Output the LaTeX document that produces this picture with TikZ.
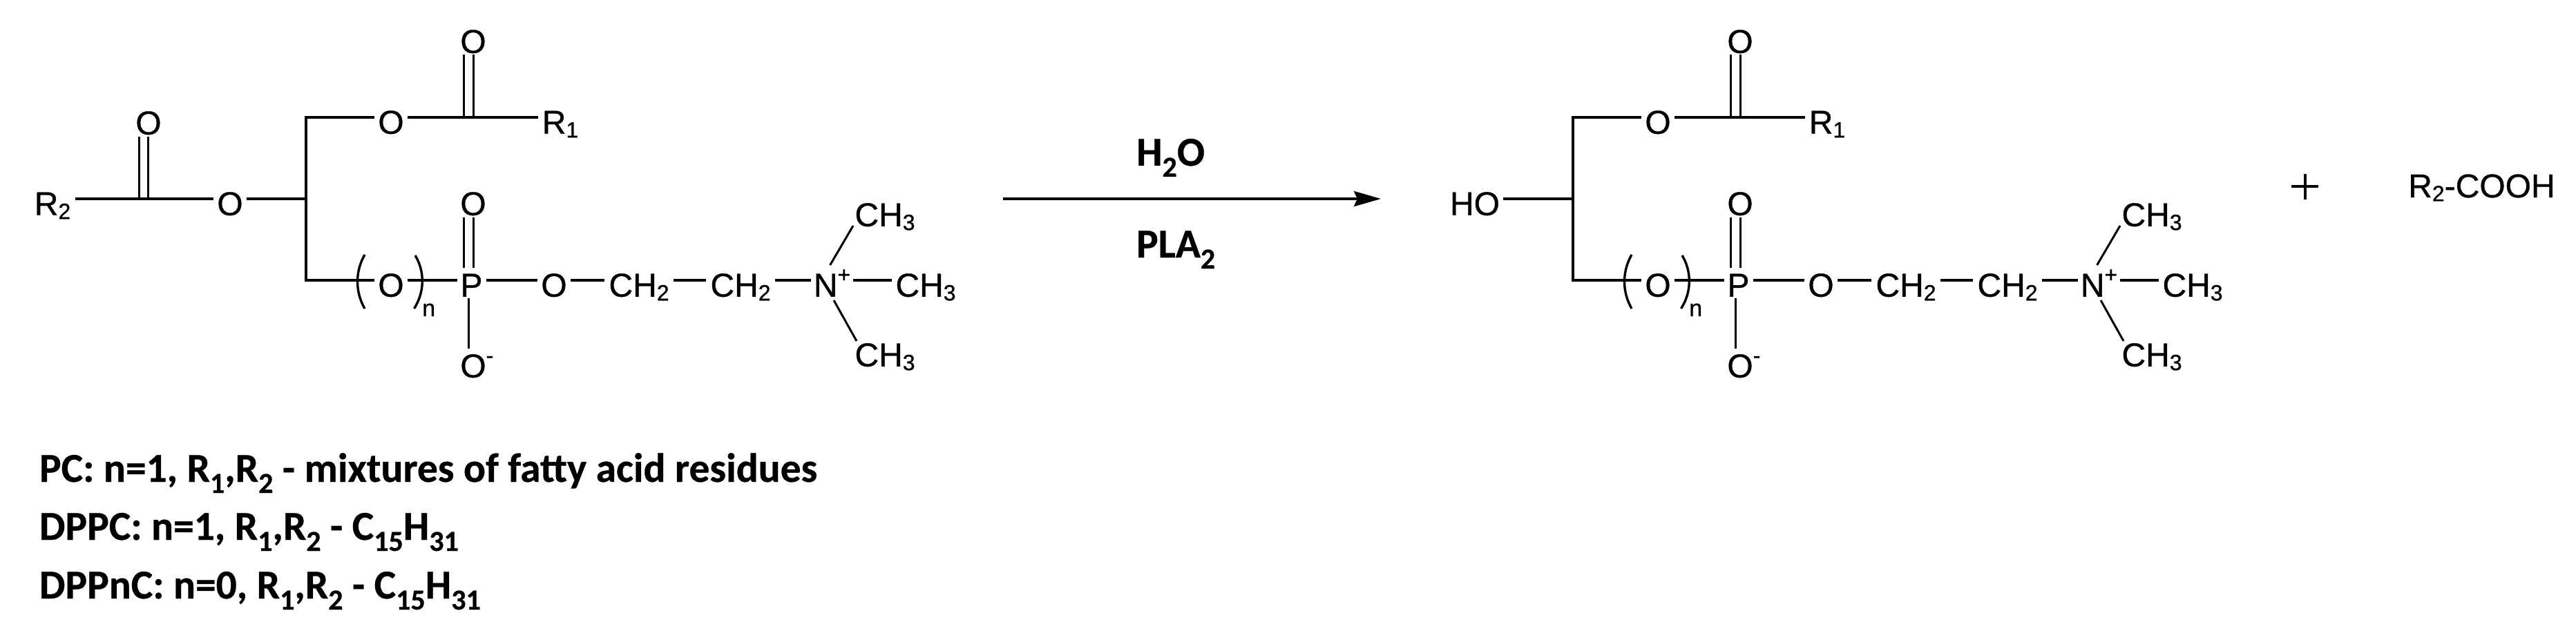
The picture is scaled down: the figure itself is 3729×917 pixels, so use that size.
\documentclass[tikz,border=0pt]{standalone}
\usepackage{fontspec}
\usetikzlibrary{arrows.meta,calc}
\setmainfont[FakeBold=0.7]{Liberation Sans}
\newfontfamily\labelfont[FakeBold=0.5]{Carlito Bold}
\newcommand{\chemsub}[1]{\raisebox{-5.5pt}{\fontsize{32}{32}\selectfont #1}}
\newcommand{\chemsup}[1]{\raisebox{21pt}{\fontsize{32}{32}\selectfont #1}}
\newcommand{\txtsub}[1]{\raisebox{-16pt}{\fontsize{42}{42}\selectfont #1}}
\tikzset{
  atom/.style={inner xsep=5pt,inner ysep=2pt,outer sep=0pt,text height=47.5pt,text depth=0pt,anchor=center,font=\fontsize{48}{48}\selectfont},
  txt/.style={inner sep=0pt,outer sep=0pt,anchor=base west,font=\labelfont\fontsize{59.5}{59.5}\selectfont},
  bond/.style={line width=3.7pt,line cap=butt},
  thinbond/.style={line width=3pt,line cap=butt},
  paren/.style={line width=3.4pt,line cap=butt},
}
% part shared by reactant and product
\newcommand{\commonpart}{
  \coordinate (bb) at (443,288);
  \coordinate (bt) at (443,170);
  \coordinate (bl) at (443,406);
  \coordinate (cc) at (685,170);
  \node[atom] (O1) at (566,170) {O};
  \node[atom] (Oc) at (685,53) {O};
  \node[atom,inner xsep=6pt] (R1) at (811,170) {R\chemsub{1}};
  \node[atom] (O2) at (566,406) {O};
  \node[atom] (P) at (682.5,406) {P};
  \node[atom] (Op) at (685,288) {O};
  \node[atom] (Om) at (685,523) {O\rlap{\chemsup{-}}};
  \node[atom] (O3) at (802,406) {O};
  \node[atom,inner xsep=6pt] (CH1) at (925,406) {CH\chemsub{2}};
  \node[atom,inner xsep=6pt] (CH2) at (1072,406) {CH\chemsub{2}};
  \node[atom,inner xsep=3.5pt] (N) at (1204.5,406) {N\chemsup{+}};
  \node[atom] (Me2) at (1340,406) {CH\chemsub{3}};
  \node[atom] (Me1) at (1281,304) {CH\chemsub{3}};
  \node[atom] (Me3) at (1281,507) {CH\chemsub{3}};
  \node[inner sep=0pt,anchor=base west,font=\fontsize{34}{34}\selectfont] (nn) at (611,458) {n};
  \coordinate (ma) at (1201.6,384);
  \coordinate (mb) at (1235,327);
  \coordinate (mc) at (1207,435);
  \coordinate (md) at (1240,494);
  \coordinate (pe) at (678,432);
  \coordinate (pf) at (678,505);
  \draw[bond] (443,168.2) -- (bl);
  \draw[bond] (441.2,170) -- (O1);
  \draw[bond] (O1) -- (R1);
  \draw[thinbond] (cc) -- (685,79);
  \draw[thinbond] ([xshift=-14pt]cc) -- (671,79);
  \draw[bond] (441.2,406) -- (O2);
  \draw[bond] (O2) -- (P);
  \draw[thinbond] (685,388) -- (685,314.6);
  \draw[thinbond] (671,388) -- (671,314.6);
  \draw[thinbond] (pe) -- (pf);
  \draw[bond] (P) -- (O3);
  \draw[bond] (O3) -- (CH1);
  \draw[bond] (CH1) -- (CH2);
  \draw[bond] (CH2) -- (N);
  \draw[bond] (N) -- (Me2);
  \draw[thinbond] (ma) -- (mb);
  \draw[thinbond] (mc) -- (md);
  \draw[paren] (528,369) .. controls (514,393) and (514,423) .. (528,447);
  \draw[paren] (601,370) .. controls (615,393) and (615,423) .. (599.5,447);
}
\begin{document}
\begin{tikzpicture}[x=1pt,y=-1pt]
\useasboundingbox (0,0) rectangle (3729,917);
% reactant
\begin{scope}[name prefix=a-]
  \commonpart
  \node[atom,inner xsep=7pt] (R2) at (76,288) {R\chemsub{2}};
  \node[atom] (Oe) at (333,288) {O};
  \node[atom] (Ocb) at (215,171) {O};
  \coordinate (c2) at (214,288);
  \draw[bond] (R2) -- (Oe);
  \draw[bond] (Oe) -- (bb);
  \draw[thinbond] (c2) -- (214,198);
  \draw[thinbond] ([xshift=-12.5pt]c2) -- (201.5,198);
\end{scope}
% arrow
\coordinate (as) at (1452,288);
\coordinate (ae) at (1999,288);
\draw[line width=4.4pt,-{Stealth[length=39pt,width=22pt,inset=5pt]}] (as) -- (ae);
\node[txt] (water) at (1645,240) {H\txtsub{2}O};
\node[txt] (pla) at (1645,373) {PLA\txtsub{2}};
% product
\begin{scope}[xshift=1834pt,name prefix=b-]
  \commonpart
  \node[atom] (HO) at (301,288) {HO};
  \draw[bond] (HO) -- (bb);
\end{scope}
% plus and acid
\coordinate (pl) at (3317,270);
\coordinate (pr) at (3356,270);
\coordinate (pt) at (3337,252);
\coordinate (pb) at (3337,289);
\draw[line width=3.2pt] (pl) -- (pr);
\draw[line width=3.2pt] (pt) -- (pb);
\node[inner sep=0pt,anchor=base west,font=\fontsize{48}{48}\selectfont] (acid) at (3486,286) {R\chemsub{2}-COOH};
% legend
\node[txt] (l1) at (57,698) {PC: n=1, R\txtsub{1},R\txtsub{2} - mixtures of fatty acid residues};
\node[txt] (l2) at (57,782) {DPPC: n=1, R\txtsub{1},R\txtsub{2} - C\txtsub{15}H\txtsub{31}};
\node[txt] (l3) at (57,867) {DPPnC: n=0, R\txtsub{1},R\txtsub{2} - C\txtsub{15}H\txtsub{31}};
\end{tikzpicture}
\end{document}
